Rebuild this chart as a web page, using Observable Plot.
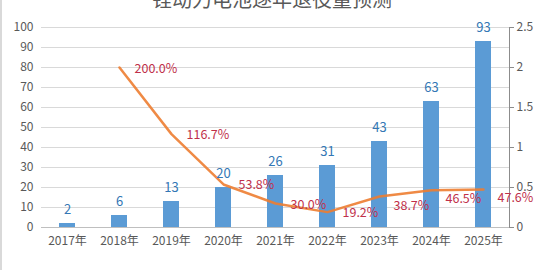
<!DOCTYPE html>
<html>
<head>
<meta charset="utf-8">
<script src="https://cdn.jsdelivr.net/npm/d3@7"></script>
<script src="https://cdn.jsdelivr.net/npm/@observablehq/plot@0.6"></script>
<style>
  html, body { margin: 0; padding: 0; background: #fff; }
  #wrap { position: relative; width: 550px; height: 270px; overflow: hidden; border-left: 2px solid #d9d9d9; box-sizing: border-box; }
  #title { position: absolute; top: -16px; left: 0; width: 540px; text-align: center; font: 20px "Noto Sans CJK SC", sans-serif; color: #595959; white-space: nowrap; }
  #chart { position: absolute; top: 0; left: -2px; }
</style>
</head>
<body>
<div id="wrap">
  <div id="chart"></div>
  <div id="title">锂动力电池逐年退役量预测</div>
</div>
<script>
const years = ["2017年", "2018年", "2019年", "2020年", "2021年", "2022年", "2023年", "2024年", "2025年"];
const volumes = [2, 6, 13, 20, 26, 31, 43, 63, 93];
const rates = [null, 2.000, 1.167, 0.538, 0.300, 0.192, 0.387, 0.465, 0.476];
const leftTicks = [0, 10, 20, 30, 40, 50, 60, 70, 80, 90, 100];
const rightTicks = [0, 0.5, 1, 1.5, 2, 2.5];

const RATIO = 100 / 2.5; // right axis 2.5 maps to left axis 100

const bars = years.map((y, i) => ({year: y, v: volumes[i]}));
const pts = years.map((y, i) => ({year: y, r: rates[i], idx: i})).filter(d => d.r != null);

const font = '"Noto Sans CJK SC", sans-serif';

const chart = Plot.plot({
  width: 550,
  height: 270,
  marginLeft: 41,
  marginRight: 41,
  marginTop: 27,
  marginBottom: 43,
  style: {fontFamily: font, fontSize: "12px", color: "#595959", background: "transparent"},
  x: {domain: years, paddingInner: 0.69, paddingOuter: 0.345, label: null},
  y: {domain: [0, 100], label: null},
  marks: [
    Plot.gridY(leftTicks, {stroke: "#d9d9d9", strokeOpacity: 1}),
    Plot.axisY(leftTicks, {tickSize: 0, tickPadding: 8, fontSize: 12, label: null}),
    Plot.axisY(rightTicks.map(t => t * RATIO), {anchor: "right", tickSize: 4, tickPadding: 3, stroke: "#8c8c8c", fontSize: 12, tickFormat: d => String(d / RATIO), label: null}),
    Plot.frame({anchor: "right", stroke: "#8c8c8c"}),
    Plot.ruleY([0], {stroke: "#bfbfbf"}),
    Plot.axisX({tickSize: 0, tickPadding: 9, fontSize: 12, label: null}),
    Plot.barY(bars, {x: "year", y: "v", fill: "#5b9bd5"}),
    Plot.line(pts, {x: "year", y: d => d.r * RATIO, stroke: "#ed7d31", strokeWidth: 2.5, strokeOpacity: 0.9}),
    Plot.text(bars, {x: "year", y: "v", text: d => String(d.v), dy: -14, fill: "#3377b5", fontSize: 13}),
    Plot.text(pts.filter(d => d.idx <= 5), {x: "year", y: d => d.r * RATIO, text: d => (d.r * 100).toFixed(1) + "%", textAnchor: "start", dx: 15, dy: 1, fill: "#c0304a", fontSize: 12.5}),
    Plot.text(pts.filter(d => d.idx > 5), {x: "year", y: d => d.r * RATIO, text: d => (d.r * 100).toFixed(1) + "%", textAnchor: "start", dx: 14, dy: 9, fill: "#c0304a", fontSize: 12.5})
  ]
});
document.getElementById("chart").appendChild(chart);
</script>
</body>
</html>
